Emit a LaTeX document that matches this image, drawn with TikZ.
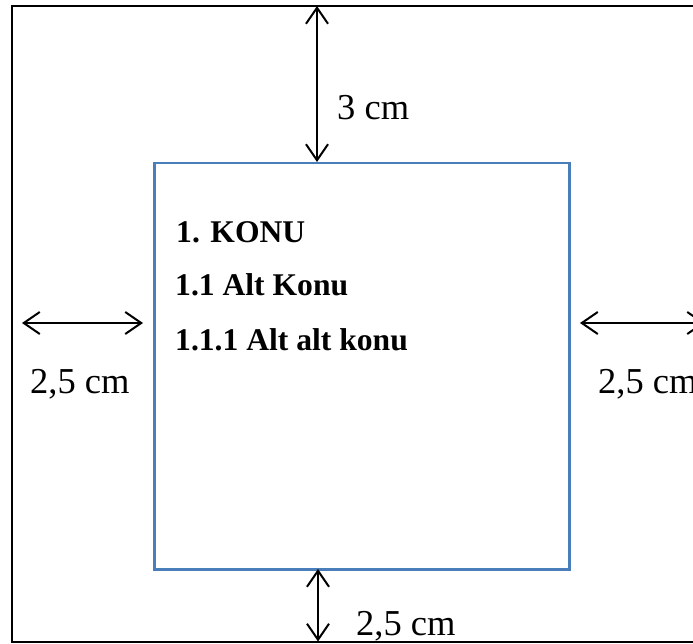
\documentclass[tikz,border=0pt]{standalone}
\usepackage{fontspec}
\setmainfont{Liberation Serif}
\usetikzlibrary{arrows.meta}
\definecolor{boxblue}{RGB}{74,126,187}
\begin{document}
\begin{tikzpicture}[x=1pt,y=-1pt,
  dim/.style={line width=2pt,{Straight Barb[length=16pt,width=22pt,line width=2pt]}-{Straight Barb[length=16pt,width=22pt,line width=2pt]}},
  lbl/.style={anchor=base west,inner sep=0pt,font=\fontsize{36.5}{40}\selectfont},
  head/.style={anchor=base west,inner sep=0pt,font=\fontsize{31.6}{36}\selectfont\bfseries}]
\useasboundingbox (0,0) rectangle (693,644);
\clip (0,0) rectangle (693,644);
% outer page frame
\draw[line width=2pt] (11.7,6) rectangle (760,641.5);
% inner text area
\node[draw=boxblue,line width=2.5pt,minimum width=415pt,minimum height=406pt,inner sep=0pt,anchor=north west] (area) at (153,162) {};
% coordinates for arrow ends
\coordinate (topT) at (317,6);
\coordinate (topB) at (317,162);
\coordinate (botT) at (318,569);
\coordinate (botB) at (318,641.5);
\coordinate (lL) at (22,323);
\coordinate (lR) at (143,323);
\coordinate (rL) at (580,323);
\coordinate (rR) at (705,323);
\draw[dim] (topT) -- (topB);
\draw[dim] (botT) -- (botB);
\draw[dim] (lL) -- (lR);
\draw[dim] (rL) -- (rR);
% labels
\node[lbl] (t3) at (337,120) {3 cm};
\node[lbl] (tl) at (30,393) {2,5 cm};
\node[lbl] (tr) at (598,393) {2,5 cm};
\node[lbl] (tb) at (356,635) {2,5 cm};
% headings
\node[head] (h1) at (176,243) {1. KONU};
\node[head] (h2) at (175,295) {1.1 Alt Konu};
\node[head] (h3) at (175,350) {1.1.1 Alt alt konu};
\end{tikzpicture}
\end{document}
